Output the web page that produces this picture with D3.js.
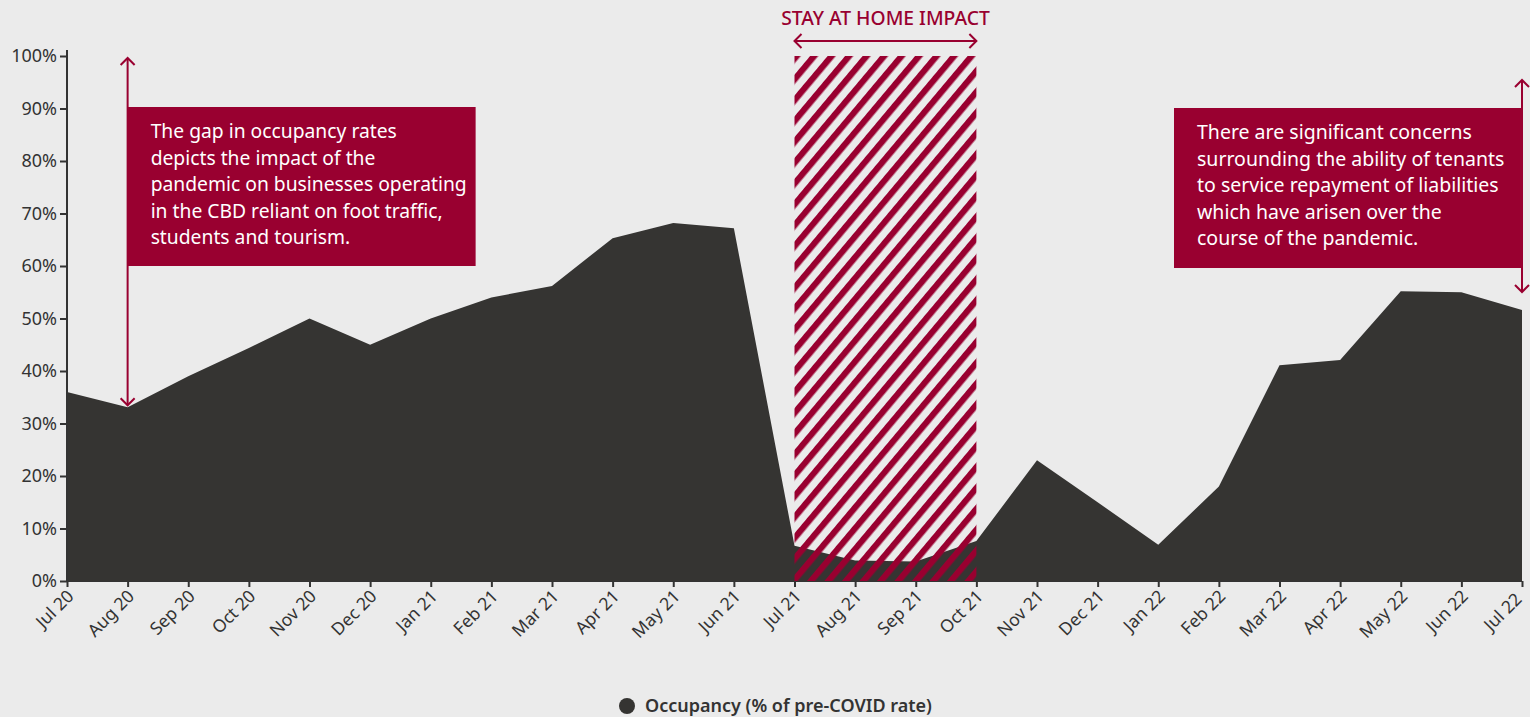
<!DOCTYPE html>
<html><head><meta charset="utf-8">
<script src="https://cdn.jsdelivr.net/npm/d3@7/dist/d3.min.js"></script>
<style>
html,body{margin:0;padding:0;background:#ebebeb;}
svg{display:block;font-family:"Noto Sans",sans-serif;}
</style></head>
<body><svg id="c" width="1530" height="717"></svg>
<script>
const months = ["Jul 20","Aug 20","Sep 20","Oct 20","Nov 20","Dec 20","Jan 21","Feb 21","Mar 21","Apr 21","May 21","Jun 21","Jul 21","Aug 21","Sep 21","Oct 21","Nov 21","Dec 21","Jan 22","Feb 22","Mar 22","Apr 22","May 22","Jun 22","Jul 22"];
const occupancy = [36,33.1,39,44.4,50,45,50,54,56.2,65.3,68.2,67.2,6.7,3.9,3.7,7.6,23,15,6.9,18,41.1,42.1,55.2,55,51.6];
const yTicks = [0,10,20,30,40,50,60,70,80,90,100];
const stayStart = "Jul 21", stayEnd = "Oct 21";
const stayLabel = "STAY AT HOME IMPACT";
const note1 = ["The gap in occupancy rates","depicts the impact of the","pandemic on businesses operating","in the CBD reliant on foot traffic,","students and tourism."];
const note2 = ["There are significant concerns","surrounding the ability of tenants","to service repayment of liabilities","which have arisen over the","course of the pandemic."];
const legendLabel = "Occupancy (% of pre-COVID rate)";

const RED = "#990030", DARK = "#353432", TXT = "#333333";
const FONT = "'Noto Sans', sans-serif";
const svg = d3.select("#c");
const x = d3.scalePoint().domain(months).range([67,1522]);
const y = d3.scaleLinear().domain([0,100]).range([581,56]);

// area
svg.append("path").datum(occupancy)
  .attr("d", d3.area().x((d,i)=>x(months[i])).y0(y(0)).y1(d=>y(d)))
  .attr("fill", DARK);

// hatch pattern
const defs = svg.append("defs");
const P = 13.4;
const pat = defs.append("pattern").attr("id","hatch").attr("patternUnits","userSpaceOnUse")
  .attr("width",P).attr("height",P).attr("patternTransform","rotate(40)");
pat.append("rect").attr("x",0).attr("y",0).attr("width",6.2).attr("height",P).attr("fill",RED);
svg.append("rect").attr("x",x(stayStart)).attr("y",y(100))
  .attr("width",x(stayEnd)-x(stayStart)).attr("height",y(0)-y(100))
  .attr("fill","url(#hatch)");

// axes
const yAxis = svg.append("g").attr("transform","translate(67,0)")
  .call(d3.axisLeft(y).tickValues(yTicks).tickFormat(d=>d+"%").tickSize(7).tickPadding(3));
yAxis.attr("font-family",FONT);
yAxis.select(".domain").attr("stroke",TXT).attr("stroke-width",2).attr("d","M0,"+(y(100)-6)+"V"+y(0));
yAxis.selectAll(".tick line").attr("stroke",TXT).attr("stroke-width",2);
yAxis.selectAll("text").attr("fill",TXT).attr("font-size",18);

const xAxis = svg.append("g").attr("transform","translate(0,581)")
  .call(d3.axisBottom(x).tickSize(6).tickPadding(4));
xAxis.attr("font-family",FONT);
xAxis.select(".domain").attr("stroke",TXT).attr("stroke-width",1);
xAxis.selectAll(".tick line").attr("stroke",TXT).attr("stroke-width",2);
xAxis.selectAll("text").attr("fill",TXT).attr("font-size",17.5)
  .attr("text-anchor","end").attr("x",0).attr("y",0).attr("dy","0.35em")
  .attr("transform",(d,i)=> i===months.length-1 ? "translate(-4,15) rotate(-45)" : "translate(3,12) rotate(-45)");

// markers
function arrowHead(g, px, py, dir){
  const s=7;
  let p;
  if(dir==="up") p=`M${px-s},${py+s}L${px},${py}L${px+s},${py+s}`;
  if(dir==="down") p=`M${px-s},${py-s}L${px},${py}L${px+s},${py-s}`;
  if(dir==="left") p=`M${px+s},${py-s}L${px},${py}L${px+s},${py+s}`;
  if(dir==="right") p=`M${px-s},${py-s}L${px},${py}L${px-s},${py+s}`;
  g.append("path").attr("d",p).attr("fill","none").attr("stroke",RED).attr("stroke-width",2);
}
const ann = svg.append("g");
const a1x = x("Aug 20");
ann.append("line").attr("x1",a1x).attr("x2",a1x).attr("y1",y(100)+2).attr("y2",y(occupancy[1])-2)
  .attr("stroke",RED).attr("stroke-width",2);
arrowHead(ann,a1x,y(100)+2,"up");
arrowHead(ann,a1x,y(occupancy[1])-2,"down");
const a2x = x("Jul 22");
ann.append("line").attr("x1",a2x).attr("x2",a2x).attr("y1",80).attr("y2",292)
  .attr("stroke",RED).attr("stroke-width",2);
arrowHead(ann,a2x,80,"up");
arrowHead(ann,a2x,292,"down");
ann.append("line").attr("x1",x(stayStart)).attr("x2",x(stayEnd)).attr("y1",41).attr("y2",41)
  .attr("stroke",RED).attr("stroke-width",2);
arrowHead(ann,x(stayStart),41,"left");
arrowHead(ann,x(stayEnd),41,"right");
ann.append("text").attr("x",(x(stayStart)+x(stayEnd))/2).attr("y",25)
  .attr("text-anchor","middle").attr("fill",RED).attr("font-size",19.3).attr("font-weight",500)
  .text(stayLabel);

function noteBox(x0,y0,w,h,lines,fs){
  ann.append("rect").attr("x",x0).attr("y",y0).attr("width",w).attr("height",h).attr("fill",RED);
  const t = ann.append("text").attr("fill","#fff").attr("font-size",fs);
  lines.forEach((l,i)=>t.append("tspan").attr("x",x0+23).attr("y",y0+31+i*26.5).text(l));
}
noteBox(a1x,107,348,159,note1,19.3);
noteBox(1174,108,a2x-1174,160,note2,19.5);

// legend
svg.append("circle").attr("cx",627).attr("cy",706).attr("r",8).attr("fill",DARK);
svg.append("text").attr("x",645).attr("y",712).attr("fill",TXT).attr("font-size",18)
  .attr("font-weight",600).text(legendLabel);
</script></body></html>
